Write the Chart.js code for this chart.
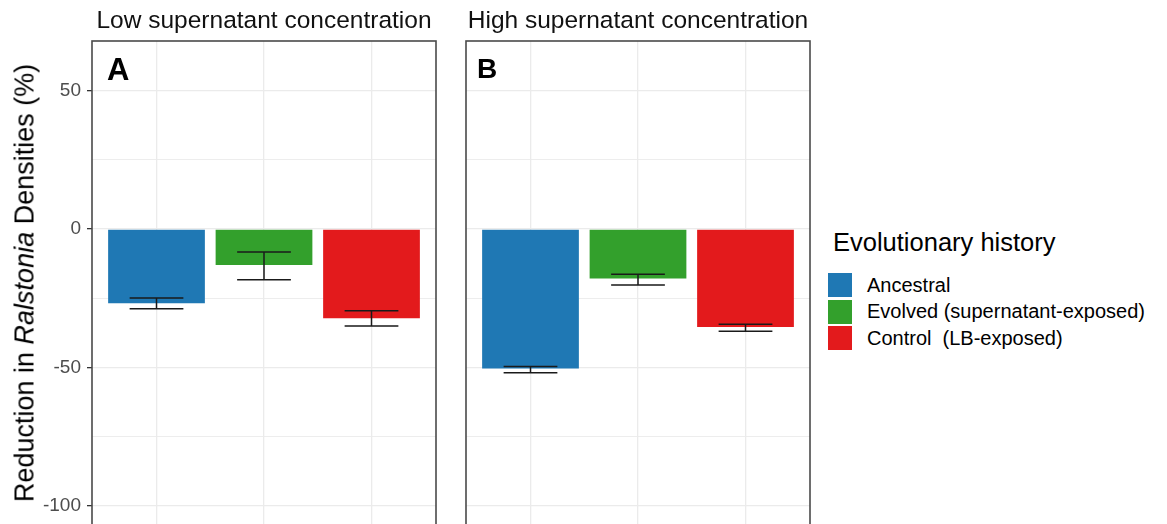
<!DOCTYPE html>
<html>
<head>
<meta charset="utf-8">
<script src="https://cdn.jsdelivr.net/npm/chart.js@4.4.1/dist/chart.umd.min.js"></script>
<style>
  html, body { margin: 0; padding: 0; background: #fff; overflow: hidden; }
  body { width: 1167px; height: 524px; position: relative; font-family: "Liberation Sans", Arial, sans-serif; }
  canvas { position: absolute; top: 0; }
  #yTitle {
    position: absolute; left: 25px; top: 283px;
    transform: translate(-50%, -50%) rotate(-90deg);
    white-space: nowrap; font-size: 27px; color: #000; line-height: 1;
  }
  #legend { position: absolute; left: 828px; top: 227px; color: #000; }
  #legend .title { font-size: 25.5px; margin-left: 5px; height: 45px; line-height: 30px; }
  #legend .row { display: flex; align-items: center; height: 26.5px; }
  #legend .key { width: 24px; height: 24px; margin-right: 15px; }
  #legend .lab { font-size: 20px; white-space: pre; }
</style>
</head>
<body>
<canvas id="panelLow" width="440" height="562" style="left:0"></canvas>
<canvas id="panelHigh" width="352" height="562" style="left:462px"></canvas>
<div id="yTitle">Reduction in <i>Ralstonia</i> Densities (%)</div>
<div id="legend"></div>
<script>
// Evolutionary-history groups and their fill colours
const categories = ['Ancestral', 'Evolved (supernatant-exposed)', 'Control  (LB-exposed)'];
const groupColors = ['#1F78B4', '#33A02C', '#E31A1C'];

// Low supernatant concentration: mean reduction and error-bar limits (%)
const lowMeans = [-26.8, -13.0, -32.2];
const lowErrUpper = [-24.9, -8.3, -29.5];
const lowErrLower = [-28.8, -18.3, -35.0];

// High supernatant concentration
const highMeans = [-50.4, -17.9, -35.4];
const highErrUpper = [-49.7, -16.3, -34.4];
const highErrLower = [-51.9, -20.2, -36.9];

// Y axis ticks: gridlines every 25, labels every 50
const yTicks = [-100, -75, -50, -25, 0, 25, 50];
const yMin = -120, yMax = 68;

const FONT = '"Liberation Sans", Arial, sans-serif';
const GRID = '#ebebeb';

// Panel border, strip title, panel letter and error bars
const panelDecor = {
  id: 'panelDecor',
  afterDatasetsDraw(chart, args, opts) {
    const { ctx, chartArea: a, scales: { x, y } } = chart;
    ctx.save();
    // error bars
    ctx.strokeStyle = '#1a1a1a';
    ctx.lineWidth = 1.5;
    const half = x.getPixelForValue(1.25) - x.getPixelForValue(1);
    opts.upper.forEach((u, i) => {
      const cx = x.getPixelForValue(i + 1);
      const yU = y.getPixelForValue(u), yL = y.getPixelForValue(opts.lower[i]);
      ctx.beginPath();
      ctx.moveTo(cx, yU); ctx.lineTo(cx, yL);
      ctx.moveTo(cx - half, yU); ctx.lineTo(cx + half, yU);
      ctx.moveTo(cx - half, yL); ctx.lineTo(cx + half, yL);
      ctx.stroke();
    });
    // panel border
    ctx.strokeStyle = '#4a4a4a';
    ctx.lineWidth = 1.6;
    ctx.strokeRect(a.left, a.top, a.right - a.left, a.bottom - a.top);
    // strip title
    ctx.fillStyle = '#111';
    ctx.font = '24.5px ' + FONT;
    ctx.textAlign = 'center';
    ctx.textBaseline = 'alphabetic';
    ctx.fillText(opts.strip, (a.left + a.right) / 2, 28);
    // panel letter
    ctx.fillStyle = '#000';
    ctx.font = 'bold ' + opts.letterSize + 'px ' + FONT;
    ctx.textAlign = 'left';
    ctx.fillText(opts.letter, a.left + opts.letterDx, opts.letterY);
    ctx.restore();
  }
};

function makePanel(canvasId, means, upper, lower, strip, letter, letterSize, letterDx, letterY, showY) {
  return new Chart(document.getElementById(canvasId), {
    type: 'bar',
    data: {
      datasets: [{
        data: means.map((v, i) => ({ x: i + 1, y: v })),
        backgroundColor: groupColors,
        borderWidth: 0,
        barPercentage: 0.9,
        categoryPercentage: 1.0
      }]
    },
    options: {
      responsive: false,
      animation: false,
      layout: { padding: { top: 41, right: 4, bottom: 1, left: showY ? 0 : 4 } },
      plugins: {
        legend: { display: false },
        tooltip: { enabled: false },
        panelDecor: { upper, lower, strip, letter, letterSize, letterDx, letterY }
      },
      scales: {
        x: {
          type: 'linear',
          offset: false,
          min: 0.4, max: 3.6,
          afterBuildTicks: s => { s.ticks = [1, 2, 3].map(v => ({ value: v })); },
          afterFit: s => { s.height = 0; s.paddingLeft = 0; s.paddingRight = 0; },
          ticks: { display: false },
          grid: { color: GRID, lineWidth: 1.3, drawTicks: false, offset: false },
          border: { display: false }
        },
        y: {
          min: yMin, max: yMax,
          afterBuildTicks: s => { s.ticks = yTicks.map(v => ({ value: v })); },
          afterFit: s => { s.width = showY ? 92 : 0; s.paddingTop = 0; s.paddingBottom = 0; },
          ticks: {
            display: showY,
            padding: 6,
            color: '#4d4d4d',
            font: { family: FONT, size: 19 },
            callback: v => (v % 50 === 0 ? String(v) : '')
          },
          grid: {
            color: GRID,
            lineWidth: c => (c.tick && c.tick.value % 50 === 0 ? 1.3 : 0.9),
            drawTicks: showY,
            tickLength: 5,
            tickColor: c => (c.tick && c.tick.value % 50 === 0 ? '#333' : 'rgba(0,0,0,0)'),
            tickWidth: 1.3
          },
          border: { display: false }
        }
      }
    },
    plugins: [panelDecor]
  });
}

makePanel('panelLow', lowMeans, lowErrUpper, lowErrLower,
  'Low supernatant concentration', 'A', 31, 15, 80, true);
makePanel('panelHigh', highMeans, highErrUpper, highErrLower,
  'High supernatant concentration', 'B', 28, 11, 78, false);

// Legend
const legend = document.getElementById('legend');
legend.innerHTML = '<div class="title">Evolutionary history</div>' +
  categories.map((c, i) =>
    `<div class="row"><div class="key" style="background:${groupColors[i]}"></div><div class="lab">${c}</div></div>`
  ).join('');
</script>
</body>
</html>
